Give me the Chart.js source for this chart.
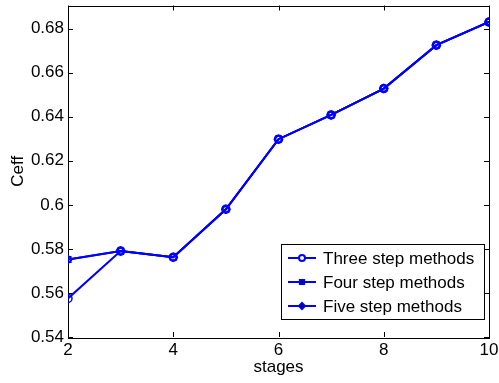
<!DOCTYPE html>
<html>
<head>
<meta charset="utf-8">
<script src="https://cdn.jsdelivr.net/npm/chart.js@4/dist/chart.umd.min.js"></script>
<style>
  html, body { margin: 0; padding: 0; background: #fff; }
  #wrap { width: 499px; height: 383px; }
</style>
</head>
<body>
<div id="wrap"><canvas id="myChart" width="499" height="383"></canvas></div>
<script>
// data
const stages = [2, 3, 4, 5, 6, 7, 8, 9, 10];
const threeStep = [0.5575, 0.5790, 0.5762, 0.5980, 0.6298, 0.6408, 0.6528, 0.6725, 0.6830];
const fourStep  = [0.5752, 0.5790, 0.5762, 0.5980, 0.6298, 0.6408, 0.6528, 0.6725, 0.6830];
const fiveStep  = [0.5752, 0.5790, 0.5762, 0.5980, 0.6298, 0.6408, 0.6528, 0.6725, 0.6830];
const xTicks = [2, 4, 6, 8, 10];
const yTicks = [0.54, 0.56, 0.58, 0.6, 0.62, 0.64, 0.66, 0.68];
const seriesNames = ['Three step methods', 'Four step methods', 'Five step methods'];
const markers = ['circle', 'rect', 'rectRot'];

const font = 'Liberation Sans, Arial, Helvetica, sans-serif';
const blue = '#0000ff';

function toPoints(arr) {
    return stages.map(function(x, i) { return { x: x, y: arr[i] }; });
}

// boîte + graduations vers l'intérieur, façon matlab
const boxPlugin = {
    id: 'box',
    beforeDatasetsDraw: function(chart) {
        const ctx = chart.ctx, a = chart.chartArea;
        const xs = chart.scales.x, ys = chart.scales.y;
        ctx.save();
        ctx.strokeStyle = '#000';
        ctx.lineWidth = 1;
        ctx.beginPath();
        xTicks.forEach(function(v) {
            const px = Math.round(xs.getPixelForValue(v)) + 0.5;
            ctx.moveTo(px, a.bottom); ctx.lineTo(px, a.bottom - 5);
            ctx.moveTo(px, a.top); ctx.lineTo(px, a.top + 5);
        });
        yTicks.forEach(function(v) {
            const py = Math.round(ys.getPixelForValue(v)) + 0.5;
            ctx.moveTo(a.left, py); ctx.lineTo(a.left + 5, py);
            ctx.moveTo(a.right, py); ctx.lineTo(a.right - 5, py);
        });
        ctx.stroke();
        ctx.strokeRect(Math.round(a.left) + 0.5, Math.round(a.top) + 0.5,
            Math.round(a.right - a.left), Math.round(a.bottom - a.top));
        ctx.restore();
    },
    afterDraw: function(chart) {
        // légende dans le coin en bas à droite
        const ctx = chart.ctx;
        const bx = 281.5, by = 244.5, bw = 203, bh = 75;
        ctx.save();
        ctx.fillStyle = '#fff';
        ctx.fillRect(bx, by, bw, bh);
        ctx.strokeStyle = '#000';
        ctx.lineWidth = 1;
        ctx.strokeRect(bx, by, bw, bh);
        ctx.font = '17px ' + font;
        ctx.textBaseline = 'middle';
        seriesNames.forEach(function(name, i) {
            const y = 258 + i * 24;
            ctx.strokeStyle = blue;
            ctx.lineWidth = 2;
            ctx.beginPath();
            ctx.moveTo(288, y); ctx.lineTo(316, y);
            ctx.stroke();
            Chart.helpers.drawPoint(ctx, { pointStyle: markers[i], radius: 3, borderWidth: 1.5 }, 302, y);
            ctx.fillStyle = '#000';
            ctx.fillText(name, 323, y + 1);
        });
        ctx.restore();
    }
};

const datasets = [threeStep, fourStep, fiveStep].map(function(arr, i) {
    return {
        label: seriesNames[i],
        data: toPoints(arr),
        borderColor: blue,
        backgroundColor: 'rgba(0,0,0,0)',
        borderWidth: 2,
        pointStyle: markers[i],
        pointRadius: 4,
        pointBorderWidth: 1.5,
        pointBorderColor: blue,
        pointBackgroundColor: 'rgba(0,0,0,0)',
        tension: 0
    };
});

const ctx = document.getElementById('myChart').getContext('2d');
new Chart(ctx, {
    type: 'line',
    data: { datasets: datasets },
    plugins: [boxPlugin],
    options: {
        responsive: false,
        animation: false,
        layout: { padding: { left: 0, right: 10, top: 5, bottom: 0 } },
        plugins: { legend: { display: false }, tooltip: { enabled: false } },
        scales: {
            x: {
                type: 'linear',
                min: 2, max: 10,
                afterBuildTicks: function(s) { s.ticks = xTicks.map(function(v) { return { value: v }; }); },
                afterFit: function(s) { s.height = 46; s.paddingLeft = 0; s.paddingRight = 0; },
                grid: { display: false, drawTicks: false },
                border: { display: false },
                ticks: { color: '#000', font: { family: font, size: 17 }, padding: 3, maxRotation: 0 },
                title: { display: true, text: 'stages', color: '#000', font: { family: font, size: 17 }, padding: { top: 0, bottom: 5 } }
            },
            y: {
                type: 'linear',
                min: 0.54, max: 0.6905,
                afterBuildTicks: function(s) { s.ticks = yTicks.map(function(v) { return { value: v }; }); },
                afterFit: function(s) { s.width = 68; s.paddingTop = 0; s.paddingBottom = 0; },
                grid: { display: false, drawTicks: false },
                border: { display: false },
                ticks: {
                    color: '#000', font: { family: font, size: 17 }, padding: 4,
                    callback: function(v) { return String(Math.round(v * 100) / 100); }
                },
                title: { display: true, text: 'Ceff', color: '#000', font: { family: font, size: 17 }, padding: { top: 8, bottom: 0 } }
            }
        }
    }
});
</script>
</body>
</html>
